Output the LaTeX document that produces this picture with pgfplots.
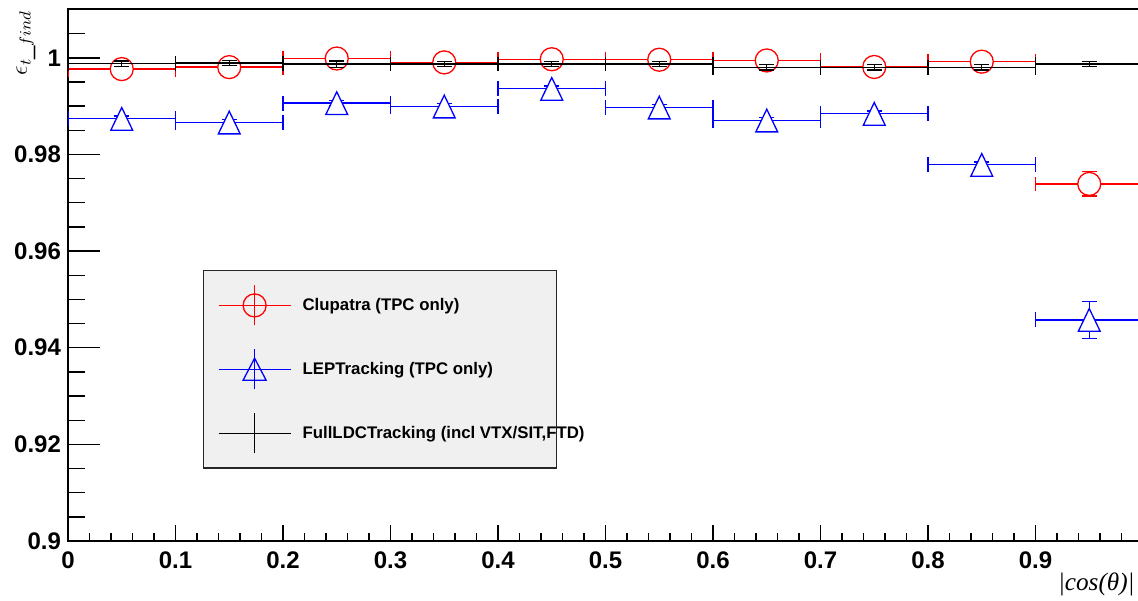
\documentclass[border=0pt]{standalone}
\usepackage{pgfplots}
\usepackage{pgfplotstable}
\pgfplotsset{compat=1.18}
\usepackage{fontspec}
\setmainfont{Liberation Sans}
\newfontfamily\serifit{Liberation Serif}

\definecolor{rootred}{RGB}{255,0,0}
\definecolor{rootblue}{RGB}{0,0,255}
\definecolor{legfill}{RGB}{240,240,240}

\pgfplotstableread{
x ex y ey
0.05 0.05 0.99766 0.0005
0.15 0.05 0.99807 0.0005
0.25 0.05 0.99985 0.0005
0.35 0.05 0.99905 0.0005
0.45 0.05 0.99970 0.0005
0.55 0.05 0.99960 0.0005
0.65 0.05 0.99945 0.0005
0.75 0.05 0.99810 0.0005
0.85 0.05 0.99920 0.0005
0.95 0.05 0.97390 0.0025
}\tabClu

\pgfplotstableread{
x ex y ey
0.05 0.05 0.98737 0.0006
0.15 0.05 0.98661 0.0006
0.25 0.05 0.99062 0.0006
0.35 0.05 0.98992 0.0006
0.45 0.05 0.99358 0.0006
0.55 0.05 0.98971 0.0006
0.65 0.05 0.98702 0.0006
0.75 0.05 0.98841 0.0006
0.85 0.05 0.97785 0.0006
0.95 0.05 0.94576 0.0038
}\tabLEP

\pgfplotstableread{
x ex y ey
0.05 0.05 0.99876 0.00055
0.15 0.05 0.99890 0.00055
0.25 0.05 0.99870 0.00065
0.35 0.05 0.99870 0.00055
0.45 0.05 0.99870 0.00055
0.55 0.05 0.99870 0.00055
0.65 0.05 0.99800 0.00055
0.75 0.05 0.99800 0.00055
0.85 0.05 0.99800 0.00055
0.95 0.05 0.99870 0.00055
}\tabFull

\pgfplotsset{
  errsonly/.style={forget plot, #1, only marks, mark=*, mark size=0pt,
    mark options={draw=none, fill=none}, line width=0.65pt,
    error bars/.cd, x dir=both, x explicit, y dir=both, y explicit,
    error bar style={line width=0.65pt, #1},
    error mark options={rotate=90, line width=0.65pt, mark size=3.7pt, #1}},
}

\begin{document}
\begin{tikzpicture}
\begin{axis}[
  name=ax,
  scale only axis,
  width=537.5pt, height=266pt,
  xmin=0, xmax=1, ymin=0.9, ymax=1.0101,
  clip marker paths=true,
  axis line style={line width=0.7pt},
  tick style={line width=0.7pt, black},
  tick align=inside,
  xtick pos=left, ytick pos=left,
  xtick={0,0.1,0.2,0.3,0.4,0.5,0.6,0.7,0.8,0.9,1},
  xticklabels={0,0.1,0.2,0.3,0.4,0.5,0.6,0.7,0.8,0.9,{}},
  minor x tick num=4,
  ytick={0.9,0.92,0.94,0.96,0.98,1},
  yticklabels={0.9,0.92,0.94,0.96,0.98,1},
  minor ytick={0.905,0.91,0.915,0.925,0.93,0.935,0.945,0.95,0.955,0.965,0.97,0.975,0.985,0.99,0.995,1.005},
  xtick style={/pgfplots/major tick length=8pt,/pgfplots/minor tick length=4.2pt},
  ytick style={/pgfplots/major tick length=16pt,/pgfplots/minor tick length=8.5pt},
  ticklabel style={font=\bfseries\fontsize{12}{14}\selectfont},
  /pgf/number format/assume math mode=true,
  xticklabel style={yshift=-2pt},
  legend style={at={(axis description cs:0.1256,0.509)}, anchor=north west,
    fill=legfill, draw=black!85, line width=0.6pt, inner xsep=0pt, inner ysep=1.3pt,
    nodes={inner sep=0pt, draw=none, fill=none},
    row sep=0pt, column sep=0pt,
    font=\bfseries\fontsize{8.4}{10}\selectfont},
  legend cell align=left,
]
% Clupatra
\addplot[errsonly=rootred] table[x=x, y=y, x error=ex, y error=ey] {\tabClu};
\addplot[forget plot, only marks, rootred, mark=*, mark size=5.75pt,
  mark options={fill=white, draw=rootred, line width=0.65pt}] table[x=x, y=y] {\tabClu};
% LEPTracking
\addplot[errsonly=rootblue] table[x=x, y=y, x error=ex, y error=ey] {\tabLEP};
\addplot[forget plot, only marks, rootblue, mark=triangle*, mark size=6.3pt,
  mark options={fill=white, draw=rootblue, line width=0.65pt, yshift=-1.9pt, yscale=1.2}] table[x=x, y=y] {\tabLEP};
% FullLDCTracking
\addplot[errsonly=black] table[x=x, y=y, x error=ex, y error=ey] {\tabFull};

\addlegendimage{legend image code/.code={
  \path[draw=none, fill=none] (-7.5pt,-16pt) (42pt,16pt);
  \draw[rootred, line width=0.65pt] (0pt,0pt) -- (36pt,0pt) (18pt,-10pt) -- (18pt,10pt);
  \draw[rootred, line width=0.65pt, fill=none] (18pt,0pt) circle[radius=5.75pt];
}}
\addlegendentry{\makebox[127pt][l]{Clupatra (TPC only)}}
\addlegendimage{legend image code/.code={
  \path[draw=none, fill=none] (-7.5pt,-16pt) (42pt,16pt);
  \draw[rootblue, line width=0.65pt] (0pt,0pt) -- (36pt,0pt) (18pt,-10pt) -- (18pt,10pt);
  \draw[rootblue, line width=0.65pt, fill=none] (18pt,5.6pt) -- (12.25pt,-5.4pt) -- (23.75pt,-5.4pt) -- cycle;
}}
\addlegendentry{\makebox[127pt][l]{LEPTracking (TPC only)}}
\addlegendimage{legend image code/.code={
  \path[draw=none, fill=none] (-7.5pt,-16pt) (42pt,16pt);
  \draw[black, line width=0.65pt] (0pt,0pt) -- (36pt,0pt) (18pt,-10pt) -- (18pt,10pt);
}}
\addlegendentry{\makebox[127pt][l]{FullLDCTracking (incl VTX/SIT,FTD)}}
\end{axis}
\node[rotate=90, anchor=base east, inner sep=0pt] at ([xshift=-20.5pt,yshift=-0.5pt]ax.north west)
  {\fontsize{12}{14}\selectfont$\epsilon_{t\_find}$};
\node[anchor=base east, inner sep=0pt] at ([xshift=-4pt,yshift=-24.5pt]ax.south east)
  {\serifit\itshape\fontsize{12.6}{15}\selectfont |cos(θ)|};
\pgfresetboundingbox
\path[use as bounding box] ([xshift=-34pt,yshift=-29.5pt]ax.south west) rectangle ([xshift=535pt,yshift=270.5pt]ax.south west);
\end{tikzpicture}
\end{document}
